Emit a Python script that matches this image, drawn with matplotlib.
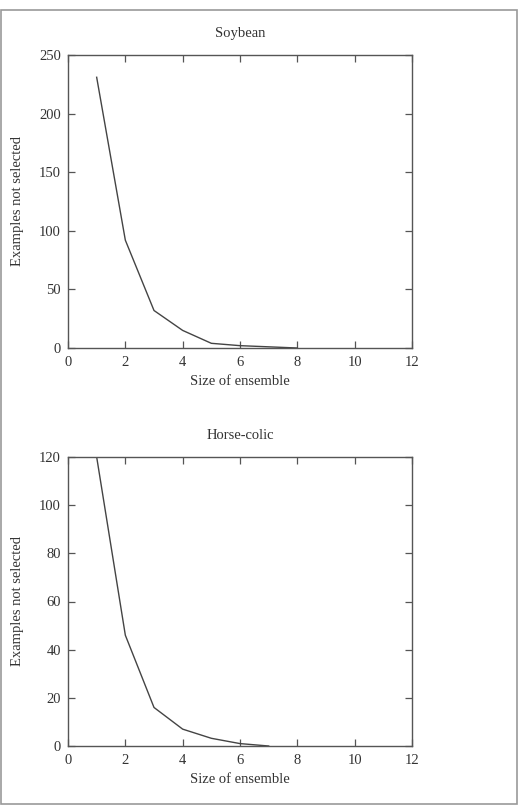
import matplotlib
matplotlib.use("Agg")
import matplotlib.pyplot as plt
from matplotlib.patches import Rectangle

ensemble_size = [1, 2, 3, 4, 5, 6, 7, 8]
soybean_not_selected = [231, 92, 32, 15, 4, 2, 1, 0]

horse_size = [1, 2, 3, 4, 5, 6, 7]
horse_not_selected = [120, 46, 16, 7, 3.2, 1, 0]

x_ticks = [0, 2, 4, 6, 8, 10, 12]
soy_yticks = [0, 50, 100, 150, 200, 250]
horse_yticks = [0, 20, 40, 60, 80, 100, 120]

plt.rcParams["font.family"] = ["Liberation Serif", "DejaVu Serif"]
plt.rcParams["font.size"] = 10.5
TXT = "#333333"
LINE = "#444444"
SPINE = "#555555"

fig = plt.figure(figsize=(5.19, 8.08), dpi=100)

# page frame
fig.patches.append(Rectangle((1 / 519, 4 / 808), 516 / 519, 794 / 808,
                             transform=fig.transFigure, fill=False,
                             edgecolor="#999999", linewidth=1.2))

panels = [
    ([68 / 519, 460 / 808, 344 / 519, 293 / 808], "Soybean",
     ensemble_size, soybean_not_selected, soy_yticks, 250),
    ([68 / 519, 62 / 808, 344 / 519, 289 / 808], "Horse-colic",
     horse_size, horse_not_selected, horse_yticks, 120),
]

for rect, title, xs, ys, yticks, ymax in panels:
    ax = fig.add_axes(rect)
    ax.plot(xs, ys, color=LINE, linewidth=1.0)
    ax.set_xlim(0, 12)
    ax.set_ylim(0, ymax)
    ax.set_xticks(x_ticks)
    ax.set_yticks(yticks)
    ax.tick_params(direction="in", top=True, right=True, length=5,
                   width=0.9, color=SPINE, labelcolor=TXT, labelsize=10.5)
    ax.tick_params(axis="x", pad=6)
    ax.tick_params(axis="y", pad=5)
    for s in ax.spines.values():
        s.set_color(SPINE)
        s.set_linewidth(1.0)
    ax.set_title(title, color=TXT, fontsize=10.5, pad=13)
    ax.set_xlabel("Size of ensemble", color=TXT, fontsize=10.5, labelpad=4)
    ax.set_ylabel("Examples not selected", color=TXT, fontsize=10.5, labelpad=11)

fig.savefig("out.png", dpi=100)
